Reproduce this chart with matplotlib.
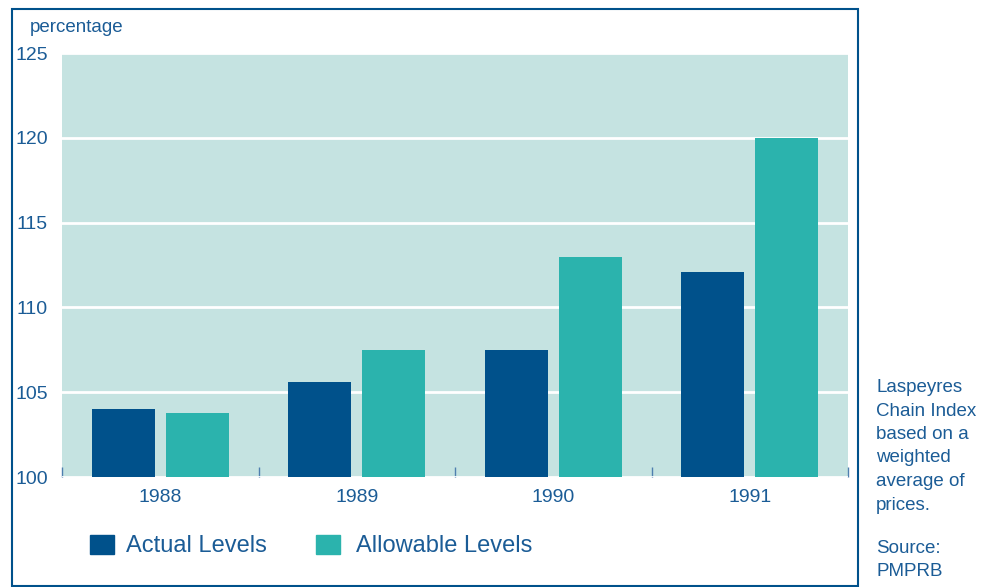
import numpy as np
import matplotlib.pyplot as plt
from matplotlib.patches import Rectangle

years = ['1988', '1989', '1990', '1991']
actual = [104.0, 105.6, 107.5, 112.1]
allowable = [103.8, 107.5, 113.0, 120.0]

dark_blue = '#00518B'
teal = '#2BB3AD'
bg = '#C5E3E1'
txt = '#1B5C96'

plt.rcParams['font.family'] = ['Liberation Sans Narrow', 'Liberation Sans', 'DejaVu Sans']

fig = plt.figure(figsize=(9.92, 5.87), dpi=100)

# outer frame
fig.patches.append(Rectangle((12 / 992, 1 / 587), 846 / 992, 577 / 587,
                             transform=fig.transFigure, fill=False,
                             edgecolor=dark_blue, linewidth=1.5))

ax = fig.add_axes([62 / 992, 1 - 477 / 587, 786 / 992, 424 / 587])
ax.set_facecolor(bg)

x = np.arange(len(years))
w = 0.32
ax.bar(x - 0.188, actual, width=w, color=dark_blue, zorder=3)
ax.bar(x + 0.188, allowable, width=w, color=teal, zorder=3)

ax.set_xlim(-0.5, 3.5)
ax.set_ylim(100, 125)
ax.set_yticks([100, 105, 110, 115, 120, 125])
ax.set_xticks(x)
ax.set_xticklabels(years)
ax.set_xticks([-0.5, 0.5, 1.5, 2.5, 3.5], minor=True)
ax.tick_params(axis='x', which='major', length=0, pad=9, labelsize=14, labelcolor=txt)
ax.tick_params(axis='x', which='minor', direction='in', length=7, color='#4F7FAF', width=1)
ax.tick_params(axis='y', length=0, pad=10, labelsize=14, labelcolor=txt)

ax.grid(axis='y', color='white', linewidth=2, zorder=1)
ax.set_axisbelow(True)
for s in ax.spines.values():
    s.set_visible(False)

fig.text(30 / 992, 1 - 27 / 587, 'percentage', color=txt, fontsize=13.5, va='center', ha='left')

# legend
fig.patches.append(Rectangle((90 / 992, 1 - 554 / 587), 24 / 992, 19 / 587,
                             transform=fig.transFigure, color=dark_blue))
fig.text(126 / 992, 1 - 546 / 587, 'Actual Levels', color=txt, fontsize=17, va='center')
fig.patches.append(Rectangle((316 / 992, 1 - 554 / 587), 24 / 992, 19 / 587,
                             transform=fig.transFigure, color=teal))
fig.text(356 / 992, 1 - 546 / 587, 'Allowable Levels', color=txt, fontsize=17, va='center')

# side note
fig.text(876 / 992, 1 - 379 / 587,
         'Laspeyres\nChain Index\nbased on a\nweighted\naverage of\nprices.',
         color=txt, fontsize=13.5, va='top', ha='left', linespacing=1.5)
fig.text(876 / 992, 1 - 540 / 587, 'Source:\nPMPRB',
         color=txt, fontsize=13.5, va='top', ha='left', linespacing=1.5)

fig.savefig('out.png', dpi=100)
